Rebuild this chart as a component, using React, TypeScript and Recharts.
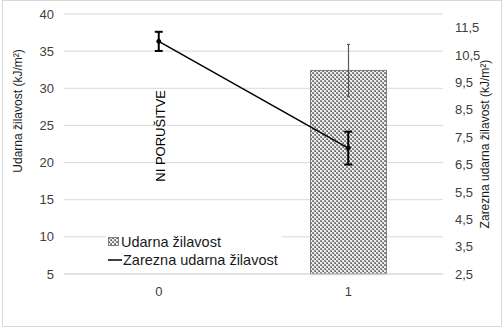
import React from 'react';
import {
  ComposedChart,
  Bar,
  Line,
  XAxis,
  YAxis,
  CartesianGrid,
  ErrorBar,
  Legend,
  ReferenceDot,
} from 'recharts';

// Specimen groups on the x axis
const categories = ['0', '1'];
// Impact toughness (kJ/m²), left axis — group 0 did not break
const impactToughness: (number | null)[] = [null, 32.4];
const impactToughnessErr: (number | null)[] = [null, 3.5];
// Notched impact toughness (kJ/m²), right axis
const notchedToughness = [11.0, 7.1];
const notchedToughnessErr = [0.35, 0.6];

const leftTicks = [5, 10, 15, 20, 25, 30, 35, 40];
const rightTicks = [2.5, 3.5, 4.5, 5.5, 6.5, 7.5, 8.5, 9.5, 10.5, 11.5];

const seriesNames = ['Udarna žilavost', 'Zarezna udarna žilavost'];
const leftTitle = 'Udarna žilavost (kJ/m²)';
const rightTitle = 'Zarezna udarna žilavost (kJ/m²)';
const noBreakText = 'NI PORUŠITVE';

const data = categories.map((c, i) => ({
  cat: c,
  udarna: impactToughness[i],
  udarnaErr: impactToughnessErr[i],
  zarezna: notchedToughness[i],
  zareznaErr: notchedToughnessErr[i],
}));

const FONT = '"Liberation Sans", Arial, sans-serif';
const TICK_COLOR = '#404040';

const fmtComma = (v: number) => v.toFixed(1).replace('.', ',');

const LegendBox = () => (
  <div
    style={{
      background: '#fff',
      fontFamily: FONT,
      fontSize: 14.5,
      color: '#1a1a1a',
      lineHeight: '18px',
      padding: '2px 4px 2px 2px',
      whiteSpace: 'nowrap',
    }}
  >
    <div style={{ display: 'flex', alignItems: 'center' }}>
      <svg width={12} height={10} style={{ marginRight: 1 }}>
        <rect x={0.5} y={0.5} width={10} height={8} fill="url(#hatch)" stroke="#7f7f7f" />
      </svg>
      <span>{seriesNames[0]}</span>
    </div>
    <div style={{ display: 'flex', alignItems: 'center' }}>
      <svg width={14} height={10} style={{ marginRight: 1 }}>
        <line x1={0} y1={5} x2={14} y2={5} stroke="#000" strokeWidth={1.5} />
      </svg>
      <span>{seriesNames[1]}</span>
    </div>
  </div>
);

const leftTitleContent = (props: any) => {
  const vb = props.viewBox || { x: 0, y: 14, width: 64, height: 260 };
  const cx = vb.x + 18;
  const cy = vb.y + vb.height * 0.373;
  return (
    <text
      x={cx}
      y={cy}
      transform={`rotate(-90, ${cx}, ${cy})`}
      textAnchor="middle"
      dy="0.35em"
      fontFamily={FONT}
      fontSize={12}
      fill="#1a1a1a"
    >
      {leftTitle}
    </text>
  );
};

const rightTitleContent = (props: any) => {
  const vb = props.viewBox || { x: 443, y: 14, width: 60, height: 260 };
  const cx = vb.x + 42;
  const cy = vb.y + vb.height * 0.5;
  return (
    <text
      x={cx}
      y={cy}
      transform={`rotate(-90, ${cx}, ${cy})`}
      textAnchor="middle"
      dy="0.35em"
      fontFamily={FONT}
      fontSize={12}
      fill="#1a1a1a"
    >
      {rightTitle}
    </text>
  );
};

const noBreakLabel = (props: any) => {
  const vb = props.viewBox || { x: 0, y: 0 };
  const cx = vb.x + (vb.width || 0) / 2 + 2;
  const cy = vb.y + (vb.height || 0) / 2;
  return (
    <text
      x={cx}
      y={cy}
      transform={`rotate(-90, ${cx}, ${cy})`}
      textAnchor="middle"
      dy="0.35em"
      fontFamily={FONT}
      fontSize={13}
      fill="#000"
    >
      {noBreakText}
    </text>
  );
};

export default function App() {
  return (
    <div style={{ position: 'absolute', left: 0, top: 0, width: 503, height: 329, background: '#fff' }}>
      <div
        style={{
          position: 'absolute',
          left: 2,
          top: 0,
          width: 500,
          height: 327,
          border: '1px solid #d9d9d9',
          boxSizing: 'border-box',
        }}
      />
      <ComposedChart
        width={503}
        height={329}
        data={data}
        margin={{ top: 14, right: 0, bottom: 0, left: 0 }}
        style={{ fontFamily: FONT }}
      >
        <defs>
          <pattern id="hatch" width={4} height={4} patternUnits="userSpaceOnUse">
            <rect x={0} y={0} width={4} height={4} fill="#eeeeee" />
            <rect x={0} y={0} width={2} height={2} fill="#8f8f8f" />
            <rect x={2} y={2} width={2} height={2} fill="#8f8f8f" />
            <rect x={1} y={1} width={1} height={1} fill="#626262" />
            <rect x={3} y={3} width={1} height={1} fill="#626262" />
          </pattern>
        </defs>
        <CartesianGrid yAxisId="left" vertical={false} stroke="#d9d9d9" strokeWidth={1} />
        <XAxis
          dataKey="cat"
          height={55}
          axisLine={{ stroke: '#d9d9d9' }}
          tickLine={false}
          tickMargin={7}
          tick={{ fill: TICK_COLOR, fontSize: 13, fontFamily: FONT }}
        />
        <YAxis
          yAxisId="left"
          orientation="left"
          width={64}
          domain={[5, 40]}
          ticks={leftTicks}
          axisLine={false}
          tickLine={false}
          tickMargin={4}
          tick={{ fill: TICK_COLOR, fontSize: 13, fontFamily: FONT }}
          label={{ content: leftTitleContent }}
        />
        <YAxis
          yAxisId="right"
          orientation="right"
          width={60}
          domain={[2.5, 12]}
          ticks={rightTicks}
          interval={0}
          axisLine={false}
          tickLine={false}
          tickMargin={6}
          tickFormatter={fmtComma}
          tick={{ fill: TICK_COLOR, fontSize: 13, fontFamily: FONT, textAnchor: 'start' }}
          label={{ content: rightTitleContent }}
        />
        <Bar
          yAxisId="left"
          dataKey="udarna"
          name={seriesNames[0]}
          barSize={76}
          fill="url(#hatch)"
          stroke="#7f7f7f"
          strokeWidth={1}
          isAnimationActive={false}
        >
          <ErrorBar dataKey="udarnaErr" width={1.5} stroke="#595959" strokeWidth={1.2} direction="y" />
        </Bar>
        <Line
          yAxisId="right"
          dataKey="zarezna"
          name={seriesNames[1]}
          type="linear"
          stroke="#000"
          strokeWidth={1.5}
          dot={{ r: 2, fill: '#000', stroke: '#000', strokeWidth: 1 }}
          activeDot={false}
          isAnimationActive={false}
        >
          <ErrorBar dataKey="zareznaErr" width={4} stroke="#000" strokeWidth={2} direction="y" />
        </Line>
        <ReferenceDot
          yAxisId="left"
          x="0"
          y={23.6}
          r={0}
          fill="none"
          stroke="none"
          label={{ content: noBreakLabel }}
        />
        <Legend
          content={<LegendBox />}
          layout="vertical"
          verticalAlign="middle"
          align="center"
          wrapperStyle={{ position: 'absolute', left: 106, top: 231, width: 'auto' }}
        />
      </ComposedChart>
    </div>
  );
}
